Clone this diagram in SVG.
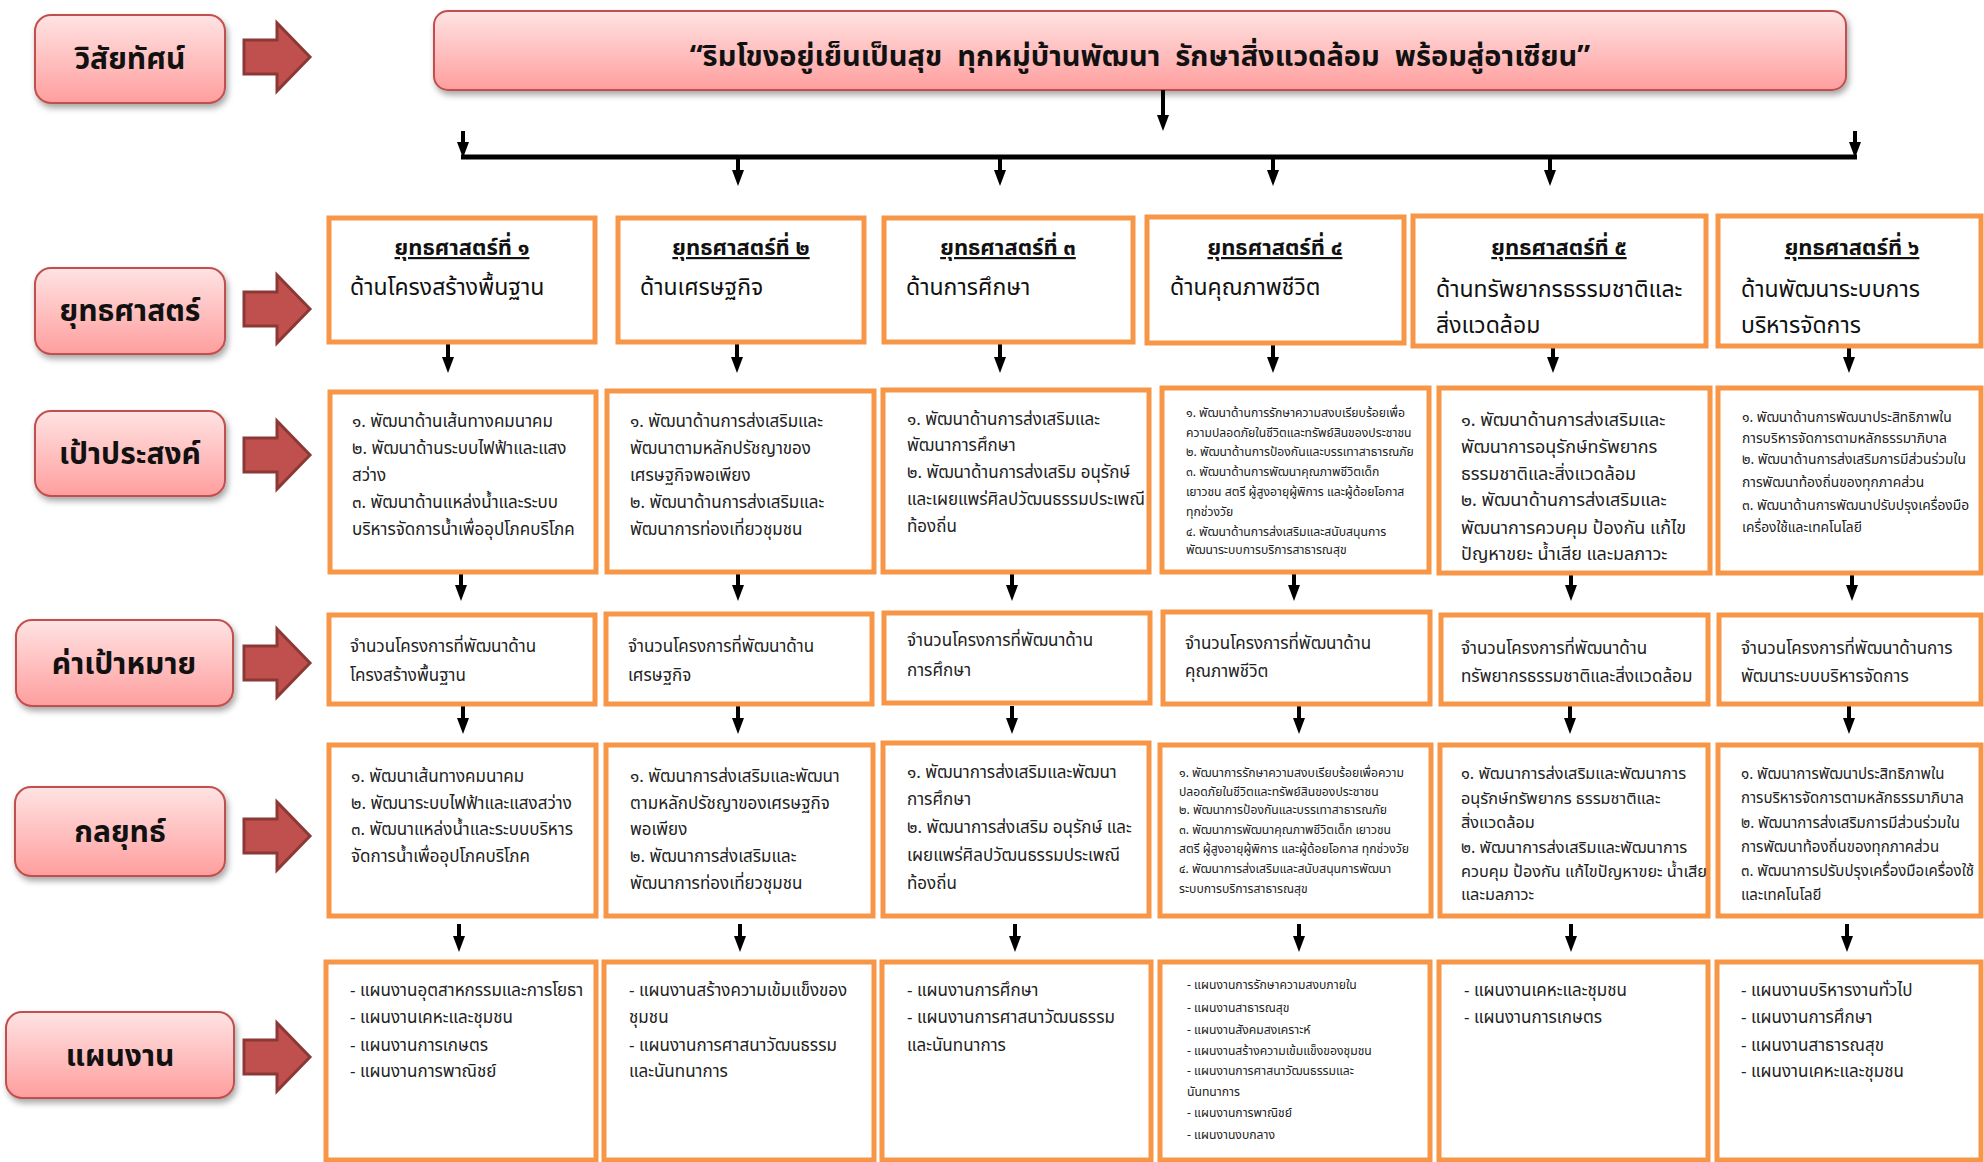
<svg xmlns="http://www.w3.org/2000/svg" width="1984" height="1162" viewBox="0 0 1984 1162">
<style>
text{font-family:"Noto Sans Thai","Noto Sans Thai UI","Sarabun","Garuda","Loma","Norasi","Kinnari","Noto Sans","DejaVu Sans",sans-serif;fill:#222}
.lbl{font-size:30px;font-weight:bold;text-anchor:middle;fill:#111}
.vis{font-size:29px;font-weight:bold;text-anchor:middle;fill:#111;white-space:pre}
.ti{font-size:22px;font-weight:bold;text-anchor:middle;text-decoration:underline;fill:#111}
.st{font-size:23px;fill:#111}
.g{font-size:17px}
.gs{font-size:12.2px}
.gm{font-size:18px}
.g6{font-size:13.8px}
.t5{font-size:16.3px}
.t6{font-size:15px}
.box{fill:#fff;stroke:#F79646;stroke-width:5}
.pk{fill:url(#pink);stroke:#C0504D;stroke-width:2;filter:url(#sh)}
.blk{fill:#C0504D;stroke:#8C3836;stroke-width:3}
.con line{stroke:#000;stroke-width:4}
.con .a{marker-end:url(#ah)}
</style>
<defs>
<linearGradient id="pink" x1="0" y1="0" x2="0" y2="1">
<stop offset="0" stop-color="#FFE3E3"/>
<stop offset="1" stop-color="#FF9E9E"/>
</linearGradient>
<filter id="sh" x="-10%" y="-10%" width="130%" height="140%">
<feDropShadow dx="2" dy="4" stdDeviation="3" flood-color="#000" flood-opacity="0.35"/>
</filter>
<marker id="ah" viewBox="0 0 16 12" refX="8" refY="6" markerWidth="16" markerHeight="12" markerUnits="userSpaceOnUse" orient="auto">
<path d="M0,0 L16,6 L0,12 z" fill="#000"/>
</marker>
<path id="barr" class="blk" d="M0,-17 H33 V-34 L66,0 L33,34 V17 H0 z"/>
</defs>

<!-- Left labels -->
<g id="label-vision"><rect class="pk" x="35" y="15" width="190" height="88" rx="16"/><text class="lbl" x="130" y="69">วิสัยทัศน์</text><use href="#barr" x="244" y="57"/></g>
<g id="label-strategy"><rect class="pk" x="35" y="268" width="190" height="86" rx="16"/><text class="lbl" x="130" y="321">ยุทธศาสตร์</text><use href="#barr" x="244" y="309"/></g>
<g id="label-goal"><rect class="pk" x="35" y="411" width="190" height="85" rx="16"/><text class="lbl" x="130" y="464">เป้าประสงค์</text><use href="#barr" x="244" y="455"/></g>
<g id="label-target"><rect class="pk" x="16" y="620" width="217" height="86" rx="16"/><text class="lbl" x="124" y="674">ค่าเป้าหมาย</text><use href="#barr" x="244" y="663"/></g>
<g id="label-tactic"><rect class="pk" x="15" y="787" width="210" height="89" rx="16"/><text class="lbl" x="120" y="842">กลยุทธ์</text><use href="#barr" x="244" y="836"/></g>
<g id="label-plan"><rect class="pk" x="6" y="1012" width="228" height="86" rx="16"/><text class="lbl" x="120" y="1066">แผนงาน</text><use href="#barr" x="244" y="1057"/></g>

<!-- Vision -->
<g id="vision"><rect class="pk" x="434" y="11" width="1412" height="79" rx="14"/><text class="vis" x="1140" y="66">“ริมโขงอยู่เย็นเป็นสุข  ทุกหมู่บ้านพัฒนา  รักษาสิ่งแวดล้อม  พร้อมสู่อาเซียน”</text></g>

<!-- Connectors -->
<g id="connectors" class="con">
<line class="a" x1="1163" y1="90" x2="1163" y2="123"/>
<line x1="461" y1="157" x2="1857" y2="157" style="stroke-width:5"/>
<line class="a" x1="463" y1="131" x2="463" y2="150"/>
<line class="a" x1="1855" y1="131" x2="1855" y2="150"/>
<line class="a" x1="738" y1="157" x2="738" y2="178"/>
<line class="a" x1="1000" y1="157" x2="1000" y2="178"/>
<line class="a" x1="1273" y1="157" x2="1273" y2="178"/>
<line class="a" x1="1550" y1="157" x2="1550" y2="178"/>

<line class="a" x1="448" y1="344" x2="448" y2="365"/>
<line class="a" x1="737" y1="344" x2="737" y2="365"/>
<line class="a" x1="1000" y1="344" x2="1000" y2="365"/>
<line class="a" x1="1273" y1="344" x2="1273" y2="365"/>
<line class="a" x1="1553" y1="348" x2="1553" y2="365"/>
<line class="a" x1="1849" y1="348" x2="1849" y2="365"/>

<line class="a" x1="461" y1="574" x2="461" y2="593"/>
<line class="a" x1="738" y1="574" x2="738" y2="593"/>
<line class="a" x1="1012" y1="574" x2="1012" y2="593"/>
<line class="a" x1="1294" y1="574" x2="1294" y2="593"/>
<line class="a" x1="1571" y1="575" x2="1571" y2="593"/>
<line class="a" x1="1852" y1="575" x2="1852" y2="593"/>

<line class="a" x1="463" y1="706" x2="463" y2="726"/>
<line class="a" x1="738" y1="706" x2="738" y2="726"/>
<line class="a" x1="1012" y1="706" x2="1012" y2="726"/>
<line class="a" x1="1299" y1="706" x2="1299" y2="726"/>
<line class="a" x1="1570" y1="706" x2="1570" y2="726"/>
<line class="a" x1="1849" y1="706" x2="1849" y2="726"/>

<line class="a" x1="459" y1="924" x2="459" y2="944"/>
<line class="a" x1="740" y1="924" x2="740" y2="944"/>
<line class="a" x1="1015" y1="924" x2="1015" y2="944"/>
<line class="a" x1="1299" y1="924" x2="1299" y2="944"/>
<line class="a" x1="1571" y1="924" x2="1571" y2="944"/>
<line class="a" x1="1847" y1="924" x2="1847" y2="944"/>
</g>

<!-- Strategies -->
<g id="strategy-1"><rect class="box" x="329" y="218" width="266" height="124"/><text class="ti" x="462" y="255">ยุทธศาสตร์ที่ ๑</text><text class="st" x="350" y="295">ด้านโครงสร้างพื้นฐาน</text></g>
<g id="strategy-2"><rect class="box" x="618" y="218" width="246" height="124"/><text class="ti" x="741" y="255">ยุทธศาสตร์ที่ ๒</text><text class="st" x="640" y="295">ด้านเศรษฐกิจ</text></g>
<g id="strategy-3"><rect class="box" x="884" y="218" width="249" height="124"/><text class="ti" x="1008" y="255">ยุทธศาสตร์ที่ ๓</text><text class="st" x="906" y="295">ด้านการศึกษา</text></g>
<g id="strategy-4"><rect class="box" x="1147" y="217" width="257" height="126"/><text class="ti" x="1275" y="255">ยุทธศาสตร์ที่ ๔</text><text class="st" x="1170" y="295">ด้านคุณภาพชีวิต</text></g>
<g id="strategy-5"><rect class="box" x="1413" y="216" width="293" height="130"/><text class="ti" x="1559" y="255">ยุทธศาสตร์ที่ ๕</text><text class="st" x="1436" y="297">ด้านทรัพยากรธรรมชาติและ</text><text class="st" x="1436" y="333">สิ่งแวดล้อม</text></g>
<g id="strategy-6"><rect class="box" x="1718" y="216" width="263" height="130"/><text class="ti" x="1852" y="255">ยุทธศาสตร์ที่ ๖</text><text class="st" x="1741" y="297">ด้านพัฒนาระบบการ</text><text class="st" x="1741" y="333">บริหารจัดการ</text></g>

<!-- Goals -->
<g id="goal-1"><rect class="box" x="330" y="392" width="266" height="180"/>
<text class="g" x="352" y="427">๑. พัฒนาด้านเส้นทางคมนาคม</text>
<text class="g" x="352" y="454">๒. พัฒนาด้านระบบไฟฟ้าและแสง</text>
<text class="g" x="352" y="481">สว่าง</text>
<text class="g" x="352" y="508">๓. พัฒนาด้านแหล่งน้ำและระบบ</text>
<text class="g" x="352" y="535">บริหารจัดการน้ำเพื่ออุปโภคบริโภค</text></g>
<g id="goal-2"><rect class="box" x="607" y="391" width="267" height="181"/>
<text class="g" x="630" y="427">๑. พัฒนาด้านการส่งเสริมและ</text>
<text class="g" x="630" y="454">พัฒนาตามหลักปรัชญาของ</text>
<text class="g" x="630" y="481">เศรษฐกิจพอเพียง</text>
<text class="g" x="630" y="508">๒. พัฒนาด้านการส่งเสริมและ</text>
<text class="g" x="630" y="535">พัฒนาการท่องเที่ยวชุมชน</text></g>
<g id="goal-3"><rect class="box" x="883" y="390" width="266" height="182"/>
<text class="g" x="907" y="425">๑. พัฒนาด้านการส่งเสริมและ</text>
<text class="g" x="907" y="451">พัฒนาการศึกษา</text>
<text class="g" x="907" y="478">๒. พัฒนาด้านการส่งเสริม อนุรักษ์</text>
<text class="g" x="907" y="505">และเผยแพร่ศิลปวัฒนธรรมประเพณี</text>
<text class="g" x="907" y="532">ท้องถิ่น</text></g>
<g id="goal-4"><rect class="box" x="1162" y="388" width="267" height="184"/>
<text class="gs" x="1186" y="417">๑. พัฒนาด้านการรักษาความสงบเรียบร้อยเพื่อ</text>
<text class="gs" x="1186" y="437">ความปลอดภัยในชีวิตและทรัพย์สินของประชาชน</text>
<text class="gs" x="1186" y="456">๒. พัฒนาด้านการป้องกันและบรรเทาสาธารณภัย</text>
<text class="gs" x="1186" y="476">๓. พัฒนาด้านการพัฒนาคุณภาพชีวิตเด็ก</text>
<text class="gs" x="1186" y="496">เยาวชน สตรี ผู้สูงอายุผู้พิการ และผู้ด้อยโอกาส</text>
<text class="gs" x="1186" y="516">ทุกช่วงวัย</text>
<text class="gs" x="1186" y="536">๔. พัฒนาด้านการส่งเสริมและสนับสนุนการ</text>
<text class="gs" x="1186" y="554">พัฒนาระบบการบริการสาธารณสุข</text></g>
<g id="goal-5"><rect class="box" x="1439" y="388" width="271" height="185"/>
<text class="gm" x="1461" y="426">๑. พัฒนาด้านการส่งเสริมและ</text>
<text class="gm" x="1461" y="453">พัฒนาการอนุรักษ์ทรัพยากร</text>
<text class="gm" x="1461" y="480">ธรรมชาติและสิ่งแวดล้อม</text>
<text class="gm" x="1461" y="506">๒. พัฒนาด้านการส่งเสริมและ</text>
<text class="gm" x="1461" y="534">พัฒนาการควบคุม ป้องกัน แก้ไข</text>
<text class="gm" x="1461" y="560">ปัญหาขยะ น้ำเสีย และมลภาวะ</text></g>
<g id="goal-6"><rect class="box" x="1718" y="388" width="263" height="185"/>
<text class="g6" x="1742" y="422">๑. พัฒนาด้านการพัฒนาประสิทธิภาพใน</text>
<text class="g6" x="1742" y="443">การบริหารจัดการตามหลักธรรมาภิบาล</text>
<text class="g6" x="1742" y="464">๒. พัฒนาด้านการส่งเสริมการมีส่วนร่วมใน</text>
<text class="g6" x="1742" y="487">การพัฒนาท้องถิ่นของทุกภาคส่วน</text>
<text class="g6" x="1742" y="510">๓. พัฒนาด้านการพัฒนาปรับปรุงเครื่องมือ</text>
<text class="g6" x="1742" y="532">เครื่องใช้และเทคโนโลยี</text></g>

<!-- Targets -->
<g id="target-1"><rect class="box" x="329" y="615" width="266" height="89"/><text class="g" x="350" y="652">จำนวนโครงการที่พัฒนาด้าน</text><text class="g" x="350" y="681">โครงสร้างพื้นฐาน</text></g>
<g id="target-2"><rect class="box" x="606" y="614" width="266" height="90"/><text class="g" x="628" y="652">จำนวนโครงการที่พัฒนาด้าน</text><text class="g" x="628" y="681">เศรษฐกิจ</text></g>
<g id="target-3"><rect class="box" x="884" y="613" width="266" height="90"/><text class="g" x="907" y="646">จำนวนโครงการที่พัฒนาด้าน</text><text class="g" x="907" y="676">การศึกษา</text></g>
<g id="target-4"><rect class="box" x="1163" y="612" width="267" height="92"/><text class="g" x="1185" y="649">จำนวนโครงการที่พัฒนาด้าน</text><text class="g" x="1185" y="677">คุณภาพชีวิต</text></g>
<g id="target-5"><rect class="box" x="1441" y="615" width="267" height="89"/><text class="g" x="1461" y="654">จำนวนโครงการที่พัฒนาด้าน</text><text class="g" x="1461" y="682">ทรัพยากรธรรมชาติและสิ่งแวดล้อม</text></g>
<g id="target-6"><rect class="box" x="1719" y="615" width="262" height="89"/><text class="g" x="1741" y="654">จำนวนโครงการที่พัฒนาด้านการ</text><text class="g" x="1741" y="682">พัฒนาระบบบริหารจัดการ</text></g>

<!-- Tactics -->
<g id="tactic-1"><rect class="box" x="329" y="745" width="267" height="171"/>
<text class="g" x="351" y="782">๑. พัฒนาเส้นทางคมนาคม</text>
<text class="g" x="351" y="809">๒. พัฒนาระบบไฟฟ้าและแสงสว่าง</text>
<text class="g" x="351" y="835">๓. พัฒนาแหล่งน้ำและระบบบริหาร</text>
<text class="g" x="351" y="862">จัดการน้ำเพื่ออุปโภคบริโภค</text></g>
<g id="tactic-2"><rect class="box" x="606" y="745" width="267" height="171"/>
<text class="g" x="630" y="782">๑. พัฒนาการส่งเสริมและพัฒนา</text>
<text class="g" x="630" y="809">ตามหลักปรัชญาของเศรษฐกิจ</text>
<text class="g" x="630" y="835">พอเพียง</text>
<text class="g" x="630" y="862">๒. พัฒนาการส่งเสริมและ</text>
<text class="g" x="630" y="889">พัฒนาการท่องเที่ยวชุมชน</text></g>
<g id="tactic-3"><rect class="box" x="883" y="743" width="266" height="173"/>
<text class="g" x="907" y="778">๑. พัฒนาการส่งเสริมและพัฒนา</text>
<text class="g" x="907" y="805">การศึกษา</text>
<text class="g" x="907" y="833">๒. พัฒนาการส่งเสริม อนุรักษ์ และ</text>
<text class="g" x="907" y="861">เผยแพร่ศิลปวัฒนธรรมประเพณี</text>
<text class="g" x="907" y="889">ท้องถิ่น</text></g>
<g id="tactic-4"><rect class="box" x="1160" y="745" width="271" height="171"/>
<text class="gs" x="1179" y="777">๑. พัฒนาการรักษาความสงบเรียบร้อยเพื่อความ</text>
<text class="gs" x="1179" y="796">ปลอดภัยในชีวิตและทรัพย์สินของประชาชน</text>
<text class="gs" x="1179" y="814">๒. พัฒนาการป้องกันและบรรเทาสาธารณภัย</text>
<text class="gs" x="1179" y="834">๓. พัฒนาการพัฒนาคุณภาพชีวิตเด็ก เยาวชน</text>
<text class="gs" x="1179" y="853">สตรี ผู้สูงอายุผู้พิการ และผู้ด้อยโอกาส ทุกช่วงวัย</text>
<text class="gs" x="1179" y="873">๔. พัฒนาการส่งเสริมและสนับสนุนการพัฒนา</text>
<text class="gs" x="1179" y="893">ระบบการบริการสาธารณสุข</text></g>
<g id="tactic-5"><rect class="box" x="1440" y="745" width="268" height="171"/>
<text class="t5" x="1461" y="779">๑. พัฒนาการส่งเสริมและพัฒนาการ</text>
<text class="t5" x="1461" y="804">อนุรักษ์ทรัพยากร ธรรมชาติและ</text>
<text class="t5" x="1461" y="828">สิ่งแวดล้อม</text>
<text class="t5" x="1461" y="853">๒. พัฒนาการส่งเสริมและพัฒนาการ</text>
<text class="t5" x="1461" y="877">ควบคุม ป้องกัน แก้ไขปัญหาขยะ น้ำเสีย</text>
<text class="t5" x="1461" y="900">และมลภาวะ</text></g>
<g id="tactic-6"><rect class="box" x="1718" y="745" width="263" height="171"/>
<text class="t6" x="1741" y="779">๑. พัฒนาการพัฒนาประสิทธิภาพใน</text>
<text class="t6" x="1741" y="803">การบริหารจัดการตามหลักธรรมาภิบาล</text>
<text class="t6" x="1741" y="828">๒. พัฒนาการส่งเสริมการมีส่วนร่วมใน</text>
<text class="t6" x="1741" y="852">การพัฒนาท้องถิ่นของทุกภาคส่วน</text>
<text class="t6" x="1741" y="876">๓. พัฒนาการปรับปรุงเครื่องมือเครื่องใช้</text>
<text class="t6" x="1741" y="900">และเทคโนโลยี</text></g>

<!-- Plans -->
<g id="plan-1"><rect class="box" x="326" y="962" width="270" height="198"/>
<text class="g" x="350" y="996">- แผนงานอุตสาหกรรมและการโยธา</text>
<text class="g" x="350" y="1023">- แผนงานเคหะและชุมชน</text>
<text class="g" x="350" y="1051">- แผนงานการเกษตร</text>
<text class="g" x="350" y="1077">- แผนงานการพาณิชย์</text></g>
<g id="plan-2"><rect class="box" x="604" y="962" width="270" height="198"/>
<text class="g" x="629" y="996">- แผนงานสร้างความเข้มแข็งของ</text>
<text class="g" x="629" y="1023">ชุมชน</text>
<text class="g" x="629" y="1051">- แผนงานการศาสนาวัฒนธรรม</text>
<text class="g" x="629" y="1077">และนันทนาการ</text></g>
<g id="plan-3"><rect class="box" x="882" y="962" width="269" height="198"/>
<text class="g" x="907" y="996">- แผนงานการศึกษา</text>
<text class="g" x="907" y="1023">- แผนงานการศาสนาวัฒนธรรม</text>
<text class="g" x="907" y="1051">และนันทนาการ</text></g>
<g id="plan-4"><rect class="box" x="1160" y="962" width="270" height="198"/>
<text class="gs" x="1187" y="989">- แผนงานการรักษาความสงบภายใน</text>
<text class="gs" x="1187" y="1012">- แผนงานสาธารณสุข</text>
<text class="gs" x="1187" y="1034">- แผนงานสังคมสงเคราะห์</text>
<text class="gs" x="1187" y="1055">- แผนงานสร้างความเข้มแข็งของชุมชน</text>
<text class="gs" x="1187" y="1075">- แผนงานการศาสนาวัฒนธรรมและ</text>
<text class="gs" x="1187" y="1096">นันทนาการ</text>
<text class="gs" x="1187" y="1117">- แผนงานการพาณิชย์</text>
<text class="gs" x="1187" y="1139">- แผนงานงบกลาง</text></g>
<g id="plan-5"><rect class="box" x="1439" y="962" width="269" height="198"/>
<text class="g" x="1464" y="996">- แผนงานเคหะและชุมชน</text>
<text class="g" x="1464" y="1023">- แผนงานการเกษตร</text></g>
<g id="plan-6"><rect class="box" x="1717" y="962" width="264" height="198"/>
<text class="g" x="1741" y="996">- แผนงานบริหารงานทั่วไป</text>
<text class="g" x="1741" y="1023">- แผนงานการศึกษา</text>
<text class="g" x="1741" y="1051">- แผนงานสาธารณสุข</text>
<text class="g" x="1741" y="1077">- แผนงานเคหะและชุมชน</text></g>
</svg>
